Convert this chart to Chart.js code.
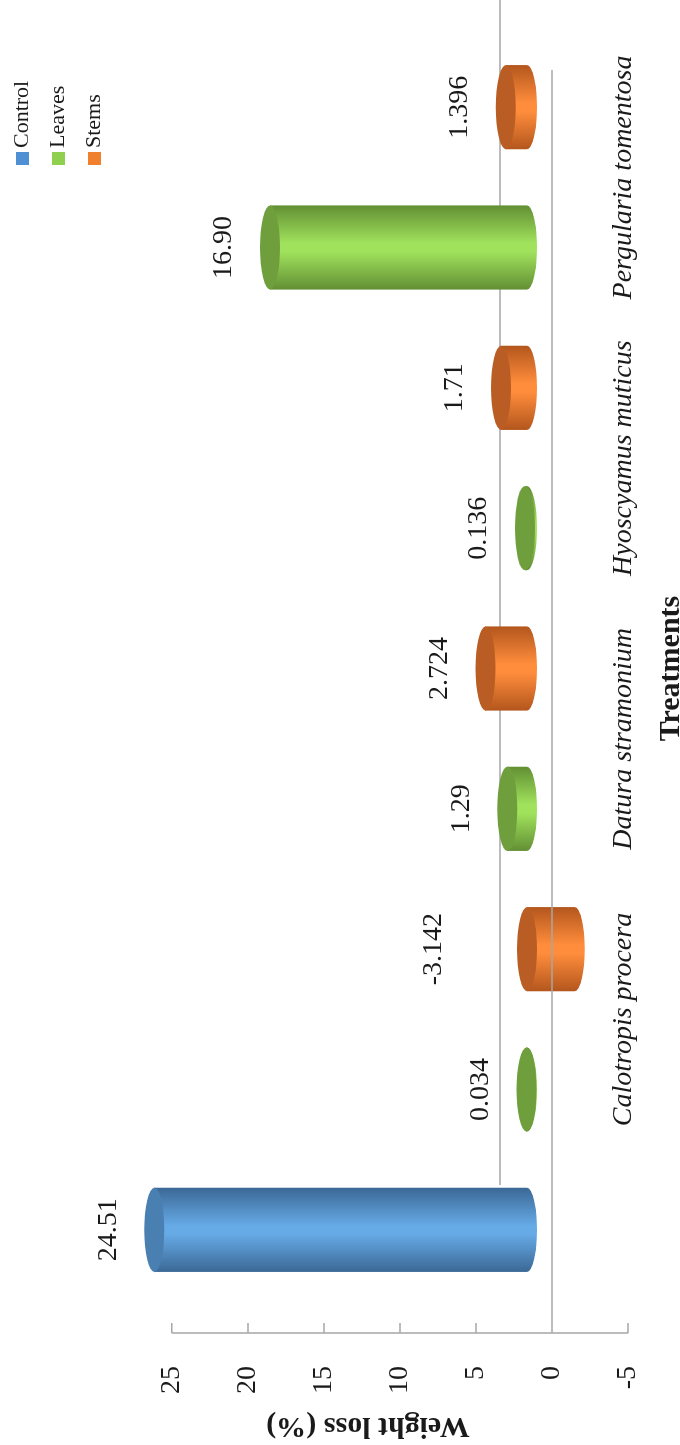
<!DOCTYPE html>
<html>
<head>
<meta charset="utf-8">
<script src="https://cdn.jsdelivr.net/npm/chart.js@4.4.1/dist/chart.umd.min.js"></script>
<style>
    html, body { margin: 0; padding: 0; background: #fff; overflow: hidden; }
    /* chart is laid out upright, then turned a quarter to the left like the reference */
    #wrap {
        position: absolute; left: 0; top: 0;
        width: 1445px; height: 700px;
        transform-origin: 0 0;
        transform: translate(0, 1445px) rotate(-90deg);
    }
</style>
</head>
<body>
<div id="wrap"><canvas id="myChart" width="1445" height="700"></canvas></div>
<script>
const treatmentNames = ['Calotropis procera', 'Datura stramonium', 'Hyoscyamus muticus', 'Pergularia tomentosa'];
const seriesNames = ['Control', 'Leaves', 'Stems'];
const controlValue = [24.51];
const leavesValues = [0.034, 1.29, 0.136, 16.90];
const stemsValues = [-3.142, 2.724, 1.71, 1.396];
const controlText = ['24.51'];
const leavesText = ['0.034', '1.29', '0.136', '16.90'];
const stemsText = ['-3.142', '2.724', '1.71', '1.396'];
const valueTicks = [-5, 0, 5, 10, 15, 20, 25];

const serif = '"Liberation Serif", "Times New Roman", serif';
const textColor = '#1a1a1a';
const lineColor = '#a6a6a6';
const palette = [
    {legend: '#4f8fd3', light: '#66aae6', dark: '#3b6896', cap: '#4a7fb2'},
    {legend: '#8fd14f', light: '#a0e25c', dark: '#628f34', cap: '#6f9e3d'},
    {legend: '#f07f2e', light: '#ff8d3c', dark: '#b3561d', cap: '#b95d24'}
];
// fake 3d depth: bars sit a bit behind the front axis plane
const depthU = 33, depthV = 25, backU = 148, backV = 52, capRy = 10, labelGap = 46;

// one slot for control, then a leaves/stems pair per treatment
const slotLabels = [''];
treatmentNames.forEach(name => slotLabels.push(name, ''));

function place(values, start) {
    let arr = new Array(slotLabels.length).fill(null);
    values.forEach((v, i) => { arr[start + 2 * i] = v; });
    return arr;
}

function drawCylinder(ctx, cx, top, bottom, rx, colors) {
    const grad = ctx.createLinearGradient(cx - rx, 0, cx + rx, 0);
    grad.addColorStop(0, colors.dark);
    grad.addColorStop(0.45, colors.light);
    grad.addColorStop(0.55, colors.light);
    grad.addColorStop(1, colors.dark);
    ctx.beginPath();
    ctx.moveTo(cx - rx, top);
    ctx.lineTo(cx - rx, bottom);
    ctx.ellipse(cx, bottom, rx, capRy, 0, Math.PI, 0, true);
    ctx.lineTo(cx + rx, top);
    ctx.closePath();
    ctx.fillStyle = grad;
    ctx.fill();

    ctx.beginPath();
    ctx.ellipse(cx, top, rx, capRy, 0, 0, Math.PI * 2);
    ctx.fillStyle = colors.cap;
    ctx.fill();
}

const cylinderPlugin = {
    id: 'cylinders',
    beforeDatasetsDraw(chart) {
        const {ctx, scales: {x, y}} = chart;
        const y0 = y.getPixelForValue(0);
        ctx.save();
        ctx.strokeStyle = lineColor;
        ctx.lineWidth = 1.5;
        ctx.beginPath();
        ctx.moveTo(x.left + backU, y0 - backV);
        ctx.lineTo(x.right + backU, y0 - backV);
        ctx.stroke();
        ctx.restore();
    },
    afterDatasetsDraw(chart) {
        const {ctx, scales: {x, y}} = chart;
        ctx.save();
        chart.data.datasets.forEach((ds, di) => {
            const meta = chart.getDatasetMeta(di);
            meta.data.forEach((bar, i) => {
                const value = ds.data[i];
                if (value === null) return;
                const p = bar.getProps(['x', 'y', 'base', 'width'], true);
                const cx = p.x + depthU;
                const top = Math.min(p.y, p.base) - depthV;
                const bottom = Math.max(p.y, p.base) - depthV;
                drawCylinder(ctx, cx, top, bottom, p.width / 2, palette[di]);
            });
        });

        // value axis line, inward tick marks and front edge of the floor
        const y0 = y.getPixelForValue(0);
        ctx.strokeStyle = lineColor;
        ctx.lineWidth = 1.5;
        ctx.beginPath();
        ctx.moveTo(x.left, y.getPixelForValue(valueTicks[0]));
        ctx.lineTo(x.left, y.getPixelForValue(valueTicks[valueTicks.length - 1]));
        ctx.moveTo(x.left, y0);
        ctx.lineTo(x.right, y0);
        valueTicks.forEach(t => {
            const py = y.getPixelForValue(t);
            ctx.moveTo(x.left, py);
            ctx.lineTo(x.left + 10, py);
        });
        ctx.stroke();

        // value labels
        ctx.fillStyle = textColor;
        ctx.font = '28px ' + serif;
        ctx.textAlign = 'center';
        ctx.textBaseline = 'middle';
        chart.data.datasets.forEach((ds, di) => {
            const meta = chart.getDatasetMeta(di);
            meta.data.forEach((bar, i) => {
                const value = ds.data[i];
                if (value === null) return;
                const px = bar.getProps(['x'], true).x + depthU;
                const py = y.getPixelForValue(Math.abs(value)) - depthV - labelGap;
                ctx.fillText(ds.valueText[i], px, py);
            });
        });

        // category axis title, centred on the bars
        ctx.font = 'bold 30px ' + serif;
        ctx.textBaseline = 'alphabetic';
        ctx.fillText('Treatments', (x.left + x.right) / 2 + depthU, 679);

        // legend
        ctx.textAlign = 'left';
        ctx.textBaseline = 'middle';
        ctx.font = '22px ' + serif;
        seriesNames.forEach((name, i) => {
            const lx = 1280, ly = 22 + i * 36;
            ctx.fillStyle = palette[i].legend;
            ctx.fillRect(lx, ly - 6, 13, 13);
            ctx.fillStyle = textColor;
            ctx.fillText(name, lx + 17, ly);
        });
        ctx.restore();
    }
};

const ctx = document.getElementById('myChart').getContext('2d');
const myChart = new Chart(ctx, {
    type: 'bar',
    data: {
        labels: slotLabels,
        datasets: [
            {label: seriesNames[0], data: place(controlValue, 0), valueText: place(controlText, 0)},
            {label: seriesNames[1], data: place(leavesValues, 1), valueText: place(leavesText, 1)},
            {label: seriesNames[2], data: place(stemsValues, 2), valueText: place(stemsText, 2)}
        ].map(ds => Object.assign(ds, {backgroundColor: 'rgba(0,0,0,0)', borderWidth: 0}))
    },
    options: {
        responsive: false,
        animation: false,
        devicePixelRatio: 1,
        grouped: false,
        categoryPercentage: 1,
        barPercentage: 0.6,
        layout: {padding: {top: 108, right: 70, bottom: 0, left: 0}},
        plugins: {
            legend: {display: false},
            tooltip: {enabled: false}
        },
        scales: {
            x: {
                grid: {display: false},
                border: {display: false},
                ticks: {
                    autoSkip: false,
                    maxRotation: 0,
                    minRotation: 0,
                    mirror: true,
                    labelOffset: 103,
                    padding: -12,
                    color: textColor,
                    font: {family: serif, size: 28, style: 'italic'}
                },
                afterFit: scale => { scale.height = 72; }
            },
            y: {
                min: valueTicks[0],
                max: 29.2,
                grid: {display: false},
                border: {display: false},
                ticks: {
                    stepSize: 5,
                    includeBounds: false,
                    padding: 25,
                    color: textColor,
                    font: {family: serif, size: 28}
                },
                title: {
                    display: true,
                    text: 'Weight loss (%)',
                    color: textColor,
                    font: {family: serif, size: 30, weight: 'bold'},
                    padding: {top: 1, bottom: 0}
                },
                afterFit: scale => { scale.width = 112; }
            }
        }
    },
    plugins: [cylinderPlugin]
});
</script>
</body>
</html>
